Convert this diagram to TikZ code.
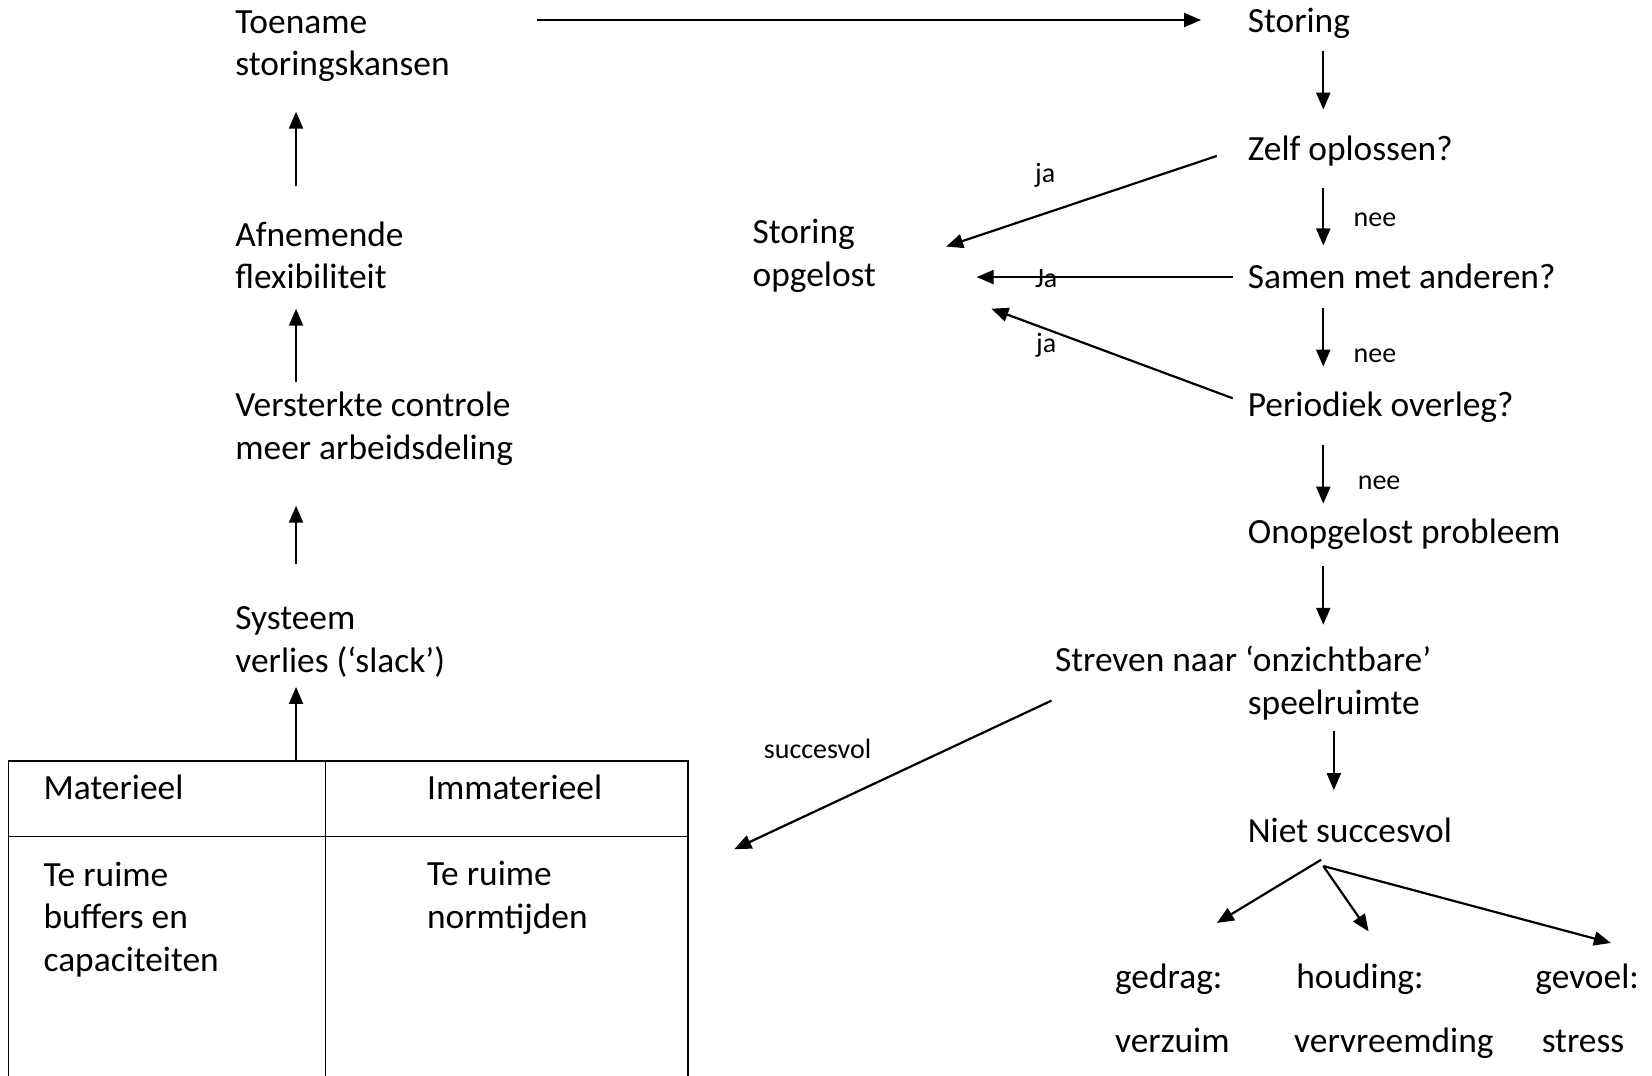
\documentclass[tikz,border=0pt]{standalone}
\usepackage{fontspec}
\setmainfont{Carlito}
\usetikzlibrary{arrows.meta}
\begin{document}
\begin{tikzpicture}[x=0.5268pt,y=-0.5268pt,
  txt/.style={anchor=base west,inner sep=0pt,align=left,font=\fontsize{17.7}{21.3}\selectfont},
  lbl/.style={inner sep=0pt,font=\fontsize{14}{16}\selectfont},
  conn/.style={line width=1.1pt,-{Triangle[length=8.5pt,width=7pt]}},
  rule/.style={line width=0.9pt}]
\useasboundingbox (0,0) rectangle (1568,1021);

% left column (multi-line nodes sit on the baseline of their last line)
\node[txt] (toename) at (223,72) {Toename\\storingskansen};
\node[txt] (afnemend) at (223,274) {Afnemende\\flexibiliteit};
\node[txt] (controle) at (223,436) {Versterkte controle\\meer arbeidsdeling};
\node[txt] (systeem) at (223,638) {Systeem\\verlies (‘slack’)};

% right column
\node[txt] (storing) at (1184,31) {Storing};
\node[txt] (zelf) at (1184,152) {Zelf oplossen?};
\node[txt] (samen) at (1184,274) {Samen met anderen?};
\node[txt] (overleg) at (1184,395) {Periodiek overleg?};
\node[txt] (onopgelost) at (1184,516) {Onopgelost probleem};
\node[txt] (streven) at (1001,678) {Streven naar ‘onzichtbare’\\\hspace*{96.4pt}speelruimte};
\node[txt] (niet) at (1184,800) {Niet succesvol};
\node[txt] (opgelost) at (714,272) {Storing\\opgelost};

% consequences
\node[txt] (gedrag) at (1058,938) {gedrag:};
\node[txt] (verzuim) at (1058,999) {verzuim};
\node[txt] (houding) at (1230,938) {houding:};
\node[txt] (vervreemding) at (1228,999) {vervreemding};
\node[txt] (gevoel) at (1457,938) {gevoel:};
\node[txt] (stress) at (1463,999) {stress};

% table of slack types
\draw[rule] (8,1021) -- (8,722) -- (653,722) -- (653,1021);
\draw[rule] (309,722) -- (309,1021);
\draw[rule] (8,794) -- (653,794);
\node[txt] (materieel) at (41,759) {Materieel};
\node[txt] (immaterieel) at (405,759) {Immaterieel};
\node[txt] (buffers) at (41,922) {Te ruime\\buffers en\\capaciteiten};
\node[txt] (normtijden) at (405,881) {Te ruime\\normtijden};

% connector end points
\coordinate (t1) at (281,722);  \coordinate (h1) at (281,652);
\coordinate (t2) at (281,535);  \coordinate (h2) at (281,480);
\coordinate (t3) at (281,363);  \coordinate (h3) at (281,293);
\coordinate (t4) at (281,177);  \coordinate (h4) at (281,106);
\coordinate (t5) at (510,19);   \coordinate (h5) at (1140,19);
\coordinate (t6) at (1256,48);  \coordinate (h6) at (1256,104);
\coordinate (t7) at (1256,178); \coordinate (h7) at (1256,233);
\coordinate (t8) at (1256,292); \coordinate (h8) at (1256,348);
\coordinate (t9) at (1256,422); \coordinate (h9) at (1256,478);
\coordinate (t10) at (1256,537); \coordinate (h10) at (1256,593);
\coordinate (t11) at (1266,694); \coordinate (h11) at (1266,750);
\coordinate (t12) at (1155,148); \coordinate (h12) at (898,234);
\coordinate (t13) at (1170,263); \coordinate (h13) at (927,263);
\coordinate (t14) at (1170,378); \coordinate (h14) at (941,293);
\coordinate (t15) at (998,665);  \coordinate (h15) at (697,806);
\coordinate (b1) at (1254,816);  \coordinate (h16) at (1155,876);
\coordinate (b2) at (1256,822);  \coordinate (h17) at (1299,884);
\coordinate (h18) at (1529,895);

% connectors
\draw[conn] (t1) -- (h1);
\draw[conn] (t2) -- (h2);
\draw[conn] (t3) -- (h3);
\draw[conn] (t4) -- (h4);
\draw[conn] (t5) -- (h5);
\draw[conn] (t6) -- (h6);
\draw[conn] (t7) -- (h7);
\draw[conn] (t8) -- (h8);
\draw[conn] (t9) -- (h9);
\draw[conn] (t10) -- (h10);
\draw[conn] (t11) -- (h11);
\draw[conn] (t12) -- (h12);
\draw[conn] (t13) -- (h13);
\draw[conn] (t14) -- (h14);
\draw[conn] (t15) -- (h15);
\draw[conn] (b1) -- (h16);
\draw[conn] (b2) -- (h17);
\draw[conn] (b2) -- (h18);

% connector labels
\node[lbl] (ja1) at (992,166) {ja};
\node[lbl] (ja2) at (993,264) {Ja};
\node[lbl] (ja3) at (993,328) {ja};
\node[lbl] (nee1) at (1305,209) {nee};
\node[lbl] (nee2) at (1305,338) {nee};
\node[lbl] (nee3) at (1309,458) {nee};
\node[lbl] (succes) at (776,711) {succesvol};
\end{tikzpicture}
\end{document}
